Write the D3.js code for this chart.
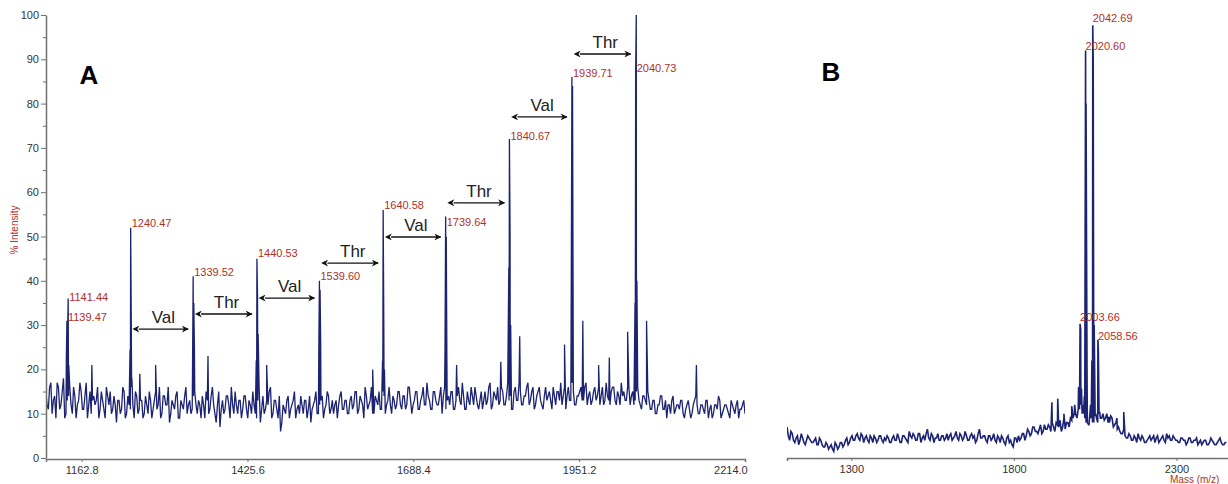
<!DOCTYPE html>
<html>
<head>
<meta charset="utf-8">
<script src="https://cdn.jsdelivr.net/npm/d3@7"></script>
<style>
  body { margin: 0; background: #fff; }
  svg { font-family: "Liberation Sans", Arial, sans-serif; }
</style>
</head>
<body>
<figure id="ms-chart" style="margin:0"></figure>
<script>
// ---- panel A data: baseline noise, two interleaved samplings (step 4) ----
var baseStartA = 1106, baseStepA = 4;
var baselineA = [
  15,11,17,13,9,16,12,18,10,14,12,16,9,13,15,11,17,12,10,14,
  13,9,15,11,16,12,10,14,8,13,11,15,10,12,16,9,14,11,13,10,
  12,15,9,13,11,16,10,14,12,8,13,11,15,9,12,14,10,13,11,15,
  10,12,14,9,13,11,16,10,12,7,13,11,14,9,12,15,10,13,11,14,
  9,12,15,10,13,8,14,11,12,16,10,13,9,6,12,10,14,11,13,9,
  12,14,10,13,11,8,12,15,10,13,9,12,14,11,10,13,12,15,11,13,
  10,14,12,15,11,13,9,14,12,16,10,13,15,11,14,12,16,10,13,12,
  15,11,14,12,16,10,13,15,11,14,12,17,13,11,15,12,14,10,16,13,
  12,15,11,14,13,17,11,15,12,14,16,12,13,11,15,13,17,12,14,16,
  13,15,12,17,14,11,16,13,15,12,14,17,13,16,12,15,13,11,16,14,
  13,16,12,15,17,14,11,16,13,15,12,14,16,13,17,14,12,15,13,16,
  14,12,17,13,15,16,12,14,17,15,13,16,14,12,15,13,11,14,12,13,
  11,13,10,12,14,11,9,12,13,10,12,11,13,9,12,11,10,13,12,10,
  12,10,13,11,9,12,11,13,10,12,11,9,12,10,13,11,12,10
];
// second sampling, starting at 1108
var baselineA2 = [
  12,16,10,14,17,11,15,9,13,16,10,14,12,17,11,14,9,15,13,12,
  16,11,13,9,14,15,11,12,13,10,16,9,14,11,12,15,10,13,9,14,
  10,13,11,15,12,9,14,12,16,10,12,14,9,13,11,16,12,10,14,12,
  13,9,12,15,10,14,12,8,15,11,10,14,12,16,10,12,13,9,14,11,
  13,10,12,9,16,11,10,13,15,9,13,11,14,8,11,13,9,12,15,11,
  10,12,13,9,14,11,13,10,12,14,11,15,10,13,12,9,14,11,13,10,
  13,11,15,10,14,12,16,11,13,10,14,12,11,15,10,13,12,14,11,15,
  12,14,11,16,13,12,15,11,13,16,12,14,11,15,13,12,16,14,11,14,
  15,11,13,16,12,14,11,13,16,12,14,11,15,13,12,16,11,15,13,12,
  16,12,14,13,11,15,13,17,12,14,16,12,15,11,14,16,12,14,13,15,
  11,14,15,13,12,16,14,13,17,12,14,15,13,16,12,15,13,16,14,12,
  16,13,14,12,16,13,15,12,14,13,16,12,15,13,16,12,14,13,15,11,
  13,10,12,14,11,13,12,10,14,11,12,13,10,11,13,9,12,14,10,12,
  11,13,9,12,10,12,14,9,11,12,10,13,11,12,9,11,13
];
// peaks [m/z, % intensity]
var peaksA = [
  [1138.5, 22], [1139.47, 31], [1140.4, 27], [1141.44, 36], [1142.4, 21],
  [1179, 21],
  [1239.5, 24.5], [1240.47, 52], [1241.5, 29], [1242.4, 18],
  [1255, 19], [1280, 21],
  [1338.5, 20], [1339.52, 41], [1340.5, 35], [1341.5, 25],
  [1363, 23],
  [1439.5, 22], [1440.53, 45], [1441.5, 36.5], [1442.5, 28],
  [1456, 21],
  [1538.6, 24], [1539.60, 40], [1540.6, 38], [1541.6, 26],
  [1624, 20],
  [1639.6, 22], [1640.58, 56], [1641.6, 31], [1642.6, 20],
  [1738.6, 24.6], [1739.64, 54.5], [1740.6, 50], [1741.6, 22],
  [1757, 21],
  [1827, 21.7],
  [1839.7, 43], [1840.67, 72], [1841.7, 51], [1842.7, 30],
  [1857, 27.5],
  [1928, 25.6],
  [1938.7, 40], [1939.71, 86], [1940.7, 84], [1941.7, 30],
  [1957, 31],
  [1982, 21], [1999, 22.7], [2028, 28.5],
  [2039.7, 35], [2040.73, 87], [2041.7, 100], [2042.7, 40],
  [2058, 31],
  [2137, 21]
];
// peak labels [m/z, label level in %]
var labelsA = [
  [1141.44, 35.4], [1139.47, 30.9], [1240.47, 52.1], [1339.52, 41.1],
  [1440.53, 45.4], [1539.60, 40.2], [1640.58, 56.2], [1739.64, 52.4],
  [1840.67, 71.8], [1939.71, 86], [2040.73, 87.1]
];
// residue arrows [name, from m/z, to m/z, level %]
var residuesA = [
  ["Val", 1240.47, 1339.52, 29.1],
  ["Thr", 1339.52, 1440.53, 32.5],
  ["Val", 1440.53, 1539.60, 36.1],
  ["Thr", 1539.60, 1640.58, 44],
  ["Val", 1640.58, 1739.64, 49.9],
  ["Thr", 1739.64, 1840.67, 57.6],
  ["Val", 1840.67, 1939.71, 77],
  ["Thr", 1939.71, 2040.73, 91.2]
];
var xTicksA = [1162.8, 1425.6, 1688.4, 1951.2, 2214.0];
var yTicks = [0, 10, 20, 30, 40, 50, 60, 70, 80, 90, 100];

// ---- panel B data: baseline noise, two interleaved samplings (step 8) ----
var baseStartB = 1102, baseStepB = 8;
var baselineB = [
  7,4,5.5,3.5,5,4,4.5,3,5,4,
  3.5,4.5,3,4,2.5,3.5,2,3,1.5,3,
  2.5,3.5,3,4.5,3.5,5,4,5.5,4,5,
  4.5,4,5,3.5,4.5,4,5,3.5,4,4.5,
  3.5,5,4,4.5,3.5,5,4,6,4.5,5,
  4,5.5,4.5,4,6.5,4,5,4.5,5.5,4,
  5,4.5,4,5.5,4.5,6,4,5,4.5,5,
  4,5.5,5,4,6.5,4.5,5,3.5,5,4.5,
  4,5,3.5,4.5,3,5,4,2.5,4.5,5,
  4.5,5.5,5,6,5.5,7,6,6.5,5.5,7.5,
  6.5,7,8,6,7.5,8.5,7,6.5,8,9,
  9,10,11,12,10,8,7.5,9,8,9,
  10,9,8.5,10,8,9,7.5,6.5,6,5.5,
  5,4.5,5,4,4.5,5.5,4,4.5,3.5,4.5,
  4,5,4.5,3.5,4.5,4,5.5,5,4,4.5,
  4,3.5,4.5,4,3.5,4.5,3.5,4,3,4,
  3.5,4,3,4.5,3.5,3,4,3.5,3,3.5
];
// second sampling, starting at 1106
var baselineB2 = [
  5,6,4,4.5,3,5.5,3.5,4,4.5,3.5,
  4,3,4.5,3,2.5,3,2.5,2,3.5,2,
  3.5,2.5,4,3,4.5,4,5,4.5,5.5,3.5,
  5,3.5,4.5,5,3.5,5,4,4.5,5,3.5,
  4.5,4,5.5,3.5,5,4.5,3.5,5,5.5,4,
  5.5,3.5,5,5.5,4.5,5.5,3.5,4.5,4,5,
  4,5.5,5,4,5,4.5,5.5,4,6,4,
  5,4.5,3.5,5.5,4.5,5,4,5,4,5.5,
  3.5,4.5,5,3.5,4.5,3.5,3,4.5,3.5,4,
  5.5,4,6.5,5,7,6,5.5,7.5,6,6.5,
  7.5,6,7,8,7,6,9,8,7,8.5,
  10,9,11,10,9,8,10,8,9.5,8,
  9,10,9,8,9.5,7,8,7,5.5,6.5,
  4.5,5.5,4,5,3.5,4.5,5,3.5,4,5,
  4.5,3.5,5,4,5,3.5,4.5,4,5,4,
  3.5,4.5,4,3,4.5,3.5,4,4.5,3.5,3,
  4,3,3.5,4,3,3.5,4.5,3,3.5
];
var peaksB = [
  [1917, 12.6], [1935, 13.4], [1954, 10], [1978, 11.7], [1987, 12],
  [1999, 16], [2003.66, 30.3], [2005.5, 29], [2008, 15.7], [2012, 11.9],
  [2017, 14], [2020.60, 92], [2022, 80], [2025, 20], [2031, 7.5],
  [2036, 12], [2040, 22], [2042.69, 97.7], [2044, 90], [2047, 30], [2052, 10],
  [2058.56, 26.7], [2060, 24], [2064, 10.4],
  [2092, 9.3], [2117, 9], [2138, 10.4]
];
var labelsB = [[2042.69, 98.4], [2020.60, 92.1], [2003.66, 30.9], [2058.56, 26.6]];
var xTicksB = [1300, 1800, 2300];

var lineColor = "#1c2372", labelColor = "#b0302a", axisColor = "#707070";

// merge the baseline samplings and peaks into one spectrum sorted by m/z
function buildSpectrum(start, step, base, base2, peaks) {
  var pts = base.map(function(v, i) { return {mz: start + i * step, value: v}; });
  base2.forEach(function(v, i) { pts.push({mz: start + step / 2 + i * step, value: v}); });
  peaks.forEach(function(p) { pts.push({mz: p[0], value: p[1]}); });
  pts.sort(function(a, b) { return a.mz - b.mz; });
  return pts;
}

var svg = d3.select("figure#ms-chart")
  .append("svg")
    .attr("width", 1228)
    .attr("height", 484);

var defs = svg.append("defs");
["start", "end"].forEach(function(k) {
  defs.append("marker")
    .attr("id", "arrow-" + k)
    .attr("viewBox", "0 0 10 10")
    .attr("refX", k == "end" ? 9 : 1).attr("refY", 5)
    .attr("markerWidth", 9).attr("markerHeight", 7)
    .attr("markerUnits", "userSpaceOnUse")
    .attr("orient", k == "end" ? "auto" : "auto-start-reverse")
    .append("path")
      .attr("d", "M0,0 L10,5 L0,10 L3,5 Z")
      .attr("fill", "#111");
});

// shared y scale
var y = d3.scaleLinear().domain([0, 100]).range([458, 15]);

var line = function(x) {
  return d3.line()
    .x(function(d) { return x(d.mz); })
    .y(function(d) { return y(d.value); });
};

// ================= panel A =================
var xA = d3.scaleLinear().domain([1106.3, 2214]).range([46, 745]);
var dataA = buildSpectrum(baseStartA, baseStepA, baselineA, baselineA2, peaksA);

defs.append("clipPath").attr("id", "clipA")
  .append("rect").attr("x", 46).attr("y", 0).attr("width", 699).attr("height", 458);

svg.append("path")
  .datum(dataA)
  .attr("clip-path", "url(#clipA)")
  .attr("fill", "none")
  .attr("stroke", lineColor)
  .attr("stroke-width", 1.3)
  .attr("d", line(xA));

// Add X axis A
var gxA = svg.append("g")
  .attr("transform", "translate(0,459)")
  .call(d3.axisBottom(xA)
    .tickValues(xTicksA)
    .tickFormat(d3.format(".1f"))
    .tickSizeOuter(0)
    .tickSize(3)
    .tickPadding(4));
gxA.selectAll("text").filter(function(d) { return d == 2214; })
  .attr("text-anchor", "end").attr("dx", "0.2em");

// Add Y axis A (majors + minor ticks at 5s)
svg.append("g")
  .attr("transform", "translate(46,0)")
  .call(d3.axisLeft(y).tickValues(d3.range(5, 100, 10)).tickSize(3).tickFormat(""))
  .call(function(g) { g.select(".domain").remove(); });
var gyA = svg.append("g")
  .attr("transform", "translate(46,0)")
  .call(d3.axisLeft(y).tickValues(yTicks).tickSize(5).tickSizeOuter(0).tickPadding(2));

svg.selectAll(".tick line, .domain").attr("stroke", axisColor);
gxA.select(".domain").attr("stroke-width", 1.5);
gyA.select(".domain").attr("stroke-width", 1.5);
svg.selectAll(".tick text")
  .attr("fill", "#333")
  .style("font-size", "11px");

svg.append("text")
  .attr("transform", "translate(18,230) rotate(-90)")
  .attr("text-anchor", "middle")
  .attr("fill", labelColor)
  .style("font-size", "10px")
  .text("% Intensity");

// peak labels A
svg.append("g").selectAll("text")
  .data(labelsA)
  .join("text")
    .attr("x", function(d) { return xA(d[0]) + 1; })
    .attr("y", function(d) { return y(d[1]); })
    .attr("fill", labelColor)
    .style("font-size", "11px")
    .text(function(d) { return d[0].toFixed(2); });

// residue arrows
var res = svg.append("g").selectAll("g")
  .data(residuesA)
  .join("g");
res.append("line")
  .attr("x1", function(d) { return xA(d[1]) + 8; })
  .attr("x2", function(d) { return xA(d[2]) - 5; })
  .attr("y1", function(d) { return y(d[3]); })
  .attr("y2", function(d) { return y(d[3]); })
  .attr("stroke", "#111")
  .attr("stroke-width", 1.4)
  .attr("marker-start", "url(#arrow-start)")
  .attr("marker-end", "url(#arrow-end)");
res.append("text")
  .attr("x", function(d) { return (xA(d[1]) + 8 + xA(d[2]) - 5) / 2; })
  .attr("y", function(d) { return y(d[3]) - 6; })
  .attr("text-anchor", "middle")
  .attr("fill", "#222")
  .style("font-size", "17px")
  .text(function(d) { return d[0]; });

svg.append("text")
  .attr("x", 89).attr("y", 84)
  .attr("text-anchor", "middle")
  .style("font-size", "26px").style("font-weight", "bold")
  .text("A");

// ================= panel B =================
var xB = d3.scaleLinear().domain([1102, 2460]).range([787, 1228.4]);
var dataB = buildSpectrum(baseStartB, baseStepB, baselineB, baselineB2, peaksB);

defs.append("clipPath").attr("id", "clipB")
  .append("rect").attr("x", 787).attr("y", 0).attr("width", 441).attr("height", 458);

svg.append("path")
  .datum(dataB)
  .attr("clip-path", "url(#clipB)")
  .attr("fill", "none")
  .attr("stroke", lineColor)
  .attr("stroke-width", 1.6)
  .attr("d", line(xB));

var gxB = svg.append("g")
  .attr("transform", "translate(0,458)")
  .call(d3.axisBottom(xB)
    .tickValues(xTicksB)
    .tickFormat(d3.format("d"))
    .tickSizeOuter(0)
    .tickSize(3)
    .tickPadding(4));
gxB.selectAll(".tick line, .domain").attr("stroke", axisColor);
gxB.select(".domain").attr("stroke-width", 1.5);
gxB.selectAll("text").attr("fill", "#333").style("font-size", "11px");

svg.append("g").selectAll("text")
  .data(labelsB)
  .join("text")
    .attr("x", function(d) { return xB(d[0]); })
    .attr("y", function(d) { return y(d[1]); })
    .attr("fill", labelColor)
    .style("font-size", "11px")
    .text(function(d) { return d[0].toFixed(2); });

svg.append("text")
  .attr("x", 1170).attr("y", 483)
  .attr("fill", labelColor)
  .style("font-size", "10px")
  .text("Mass (m/z)");

svg.append("text")
  .attr("x", 831).attr("y", 81)
  .attr("text-anchor", "middle")
  .style("font-size", "26px").style("font-weight", "bold")
  .text("B");
</script>
</body>
</html>
